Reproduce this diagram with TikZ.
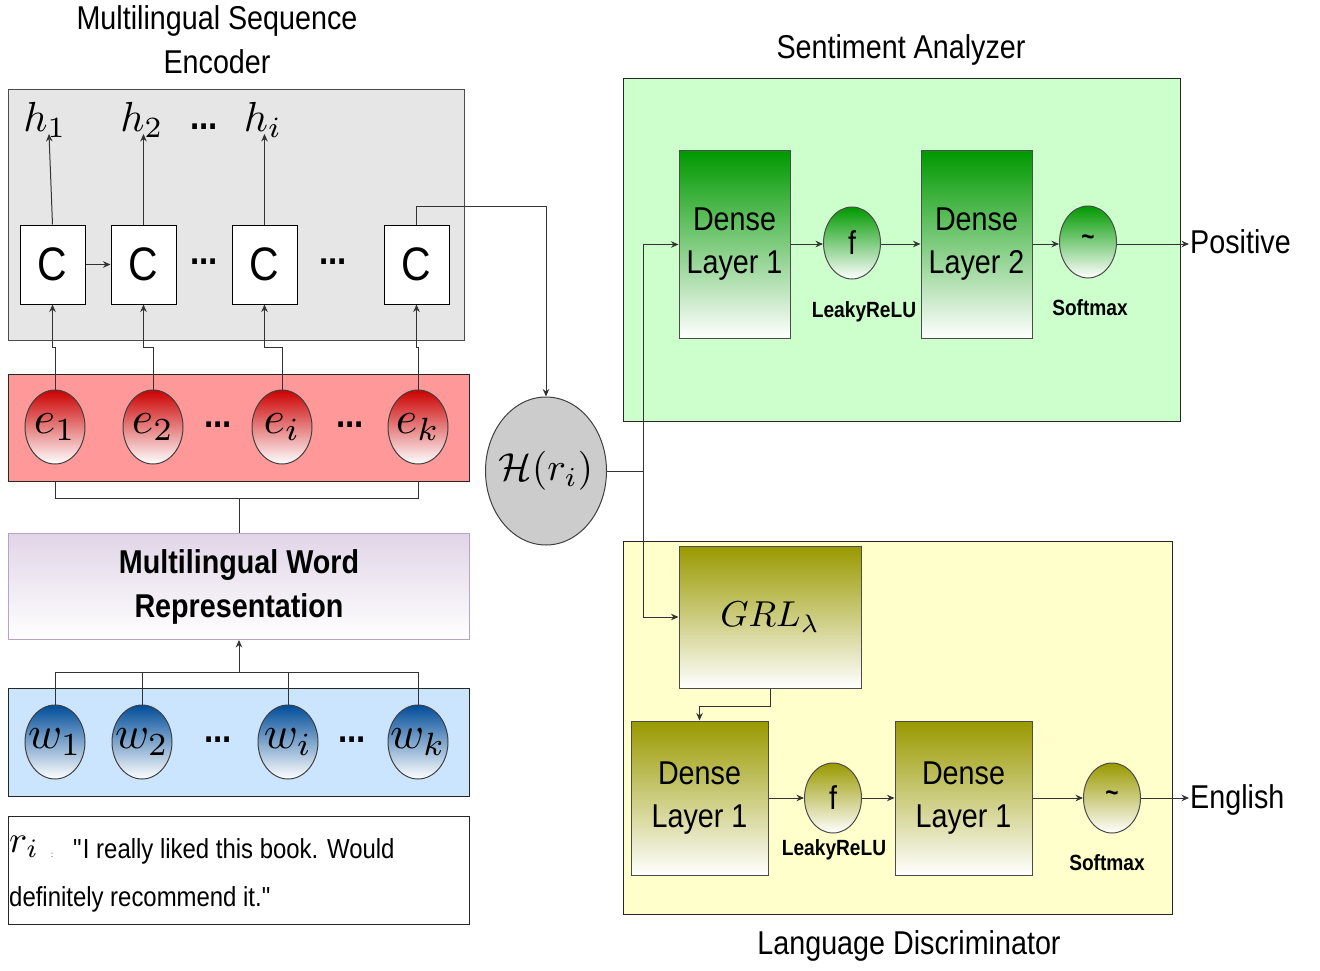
\documentclass[tikz,border=0pt]{standalone}
\usepackage{graphicx}
\usepackage{fontspec}
\setmainfont[FakeStretch=0.87]{Liberation Sans}
\usetikzlibrary{shapes.geometric,arrows.meta,calc}
\newcommand{\fsz}[2]{\fontsize{#1}{#2}\selectfont}
\newcommand{\bigmath}[2]{{\fsz{10}{12}\scalebox{#1}{$#2$}}}
\newcommand{\zmath}[2]{\makebox[0pt]{\fsz{10}{12}\scalebox{#1}{$#2$}}}
\definecolor{grayfill}{HTML}{E6E6E6}
\definecolor{redfill}{HTML}{FF9999}
\definecolor{redtop}{HTML}{CC0000}
\definecolor{bluefill}{HTML}{CCE5FF}
\definecolor{bluetop}{HTML}{004C99}
\definecolor{purpfill}{HTML}{E1D5E7}
\definecolor{purpline}{HTML}{B9A2C8}
\definecolor{greenfill}{HTML}{CCFFCC}
\definecolor{greentop}{HTML}{009900}
\definecolor{yelfill}{HTML}{FFFFCC}
\definecolor{yeltop}{HTML}{999900}
\definecolor{hfill}{HTML}{CCCCCC}
\tikzset{
  >={Stealth[length=7.5pt,width=6.5pt]},
  conn/.style={line width=1pt, draw=black!80},
  container/.style={draw=black!85, line width=1pt, anchor=north west, inner sep=0},
  cbox/.style={draw=black, line width=1pt, fill=white, minimum width=65, minimum height=79, inner sep=0, font=\fsz{47}{56}},
  eell/.style={ellipse, draw=black!75, line width=1pt, top color=redtop, bottom color=white, minimum width=60, minimum height=74, inner sep=0},
  well/.style={ellipse, draw=black!75, line width=1pt, top color=bluetop, bottom color=white, minimum width=60, minimum height=74, inner sep=0},
  gdense/.style={draw=black!70, line width=1pt, top color=greentop, bottom color=white, minimum width=111, minimum height=187, inner sep=0, align=center, font=\fsz{33}{43}},
  ydense/.style={draw=black!70, line width=1pt, top color=yeltop, bottom color=white, minimum width=137, minimum height=154, inner sep=0, align=center, font=\fsz{33}{43}},
  gact/.style={ellipse, draw=black!70, line width=1pt, top color=greentop, bottom color=white, minimum width=57, minimum height=72, inner sep=0},
  yact/.style={ellipse, draw=black!70, line width=1pt, top color=yeltop, bottom color=white, minimum width=57, minimum height=70, inner sep=0},
  tildefont/.style={font=\fsz{26}{30}\bfseries},
  ttl/.style={font=\fsz{33}{44}, align=center, inner sep=0},
  lbl/.style={font=\fsz{22}{26}\bfseries, inner sep=0},
  dots/.style={font=\fsz{38}{38}\bfseries, inner sep=0},
  hlab/.style={inner sep=0},
}
\begin{document}
\begin{tikzpicture}[x=1pt,y=-1pt]
\useasboundingbox (0,0) rectangle (1320,971);

% ---------- titles
\node[ttl] (enctitle) at (217,40) {Multilingual Sequence\\Encoder};
\node[ttl] (satitle) at (901,50) {Sentiment Analyzer};
\node[ttl] (ldtitle) at (909,946) {Language Discriminator};

% ---------- containers
\node[container, fill=grayfill, draw=black!70, minimum width=456, minimum height=251] (gray) at (8,89) {};
\node[container, fill=redfill, minimum width=461, minimum height=107] (red) at (8,374) {};
\node[container, draw=purpline, top color=purpfill, bottom color=white, minimum width=461, minimum height=106, font=\fsz{33}{44}\bfseries, align=center] (mwr) at (8,533) {Multilingual Word\\Representation};
\node[container, fill=bluefill, minimum width=461, minimum height=108] (blue) at (8,688) {};
\node[container, fill=white, minimum width=461, minimum height=108] (txt) at (8,816) {};
\node[container, fill=greenfill, minimum width=557, minimum height=343] (green) at (623,78) {};
\node[container, fill=yelfill, minimum width=549, minimum height=373] (yellow) at (623,541) {};

% ---------- encoder cells
\node[cbox] (C1) at (52.5,264.5) {C};
\node[cbox] (C2) at (143.5,264.5) {C};
\node[cbox] (C3) at (264.5,264.5) {C};
\node[cbox] (C4) at (416.5,264.5) {C};
\node[dots] (cd1) at (204,262) {...};
\node[dots] (cd2) at (333,262) {...};

\node[hlab] (h1) at (45,120) {\bigmath{4.2}{h_1}};
\node[hlab] (h2) at (142,120) {\bigmath{4.2}{h_2}};
\node[hlab] (h3) at (263,120) {\bigmath{4.2}{h_i}};
\node[dots] (hd) at (204,127) {...};

\draw[conn,->] (C1.north) -- ($(h1.south)+(4,-4)$);
\draw[conn,->] (C2.north) -- (C2.north |- h2.south) -- ++(0,-4);
\draw[conn,->] (C3.north) -- (C3.north |- h3.south) -- ++(0,-4);
\draw[conn,->] (C1.east) -- (C2.west);

% ---------- embeddings
\node[eell] (e1) at (55,427) {\zmath{4.6}{e_1}};
\node[eell] (e2) at (153,427) {\zmath{4.6}{e_2}};
\node[eell] (e3) at (282,427) {\zmath{4.6}{e_i}};
\node[eell] (e4) at (418,427) {\zmath{4.6}{e_k}};
\node[dots] (ed1) at (218,425) {...};
\node[dots] (ed2) at (350,425) {...};

\coordinate (jog) at (0,347);
\draw[conn,->] (e1.north) -- (e1.north |- jog) -| (C1.south);
\draw[conn,->] (e2.north) -- (e2.north |- jog) -| (C2.south);
\draw[conn,->] (e3.north) -- (e3.north |- jog) -| (C3.south);
\draw[conn,->] (e4.north) -- (e4.north |- jog) -| (C4.south);

\coordinate (ebr) at (0,498);
\draw[conn] (e1.south |- red.south) -- (e1.south |- ebr) -- (e4.south |- ebr) -- (e4.south |- red.south);
\draw[conn] (red.south |- ebr) -- (mwr.north);

% ---------- words
\node[well] (w1) at (55,742) {\zmath{4.6}{w_1}};
\node[well] (w2) at (142,742) {\zmath{4.6}{w_2}};
\node[well] (w3) at (288,742) {\zmath{4.6}{w_i}};
\node[well] (w4) at (418,742) {\zmath{4.6}{w_k}};
\node[dots] (wd1) at (218,740) {...};
\node[dots] (wd2) at (352,740) {...};

\coordinate (wbr) at (0,672);
\draw[conn] (w1.north) -- (w1.north |- wbr) -- (w4.north |- wbr) -- (w4.north);
\draw[conn] (w2.north) -- (w2.north |- wbr);
\draw[conn] (w3.north) -- (w3.north |- wbr);
\draw[conn,->] (blue.north |- wbr) -- (mwr.south);

% ---------- review text
\node[anchor=base west, inner sep=0] (ri) at (9,852) {\bigmath{3.8}{r_i}};
\node[font=\fsz{8}{9}, anchor=base, inner sep=0] (colon) at (52,857) {:};
\node[font=\fsz{27.5}{34}, anchor=base west, inner sep=0] (q1) at (73,858) {\textquotedbl I really liked this book. Would};
\node[font=\fsz{27.5}{34}, anchor=base west, inner sep=0] (q2) at (9,906) {definitely recommend it.\textquotedbl};

% ---------- shared representation
\node[ellipse, draw=black!75, line width=1pt, fill=hfill, minimum width=121, minimum height=148, inner sep=0] (H) at (546,471) {\zmath{3.9}{\mathcal{H}(r_i)}};
\draw[conn,->] (C4.north) -- (C4.north |- 0,206) -| (H.north);

% ---------- sentiment analyzer
\node[gdense] (sd1) at (734.5,244.5) {Dense\\Layer 1};
\node[gact, font=\fsz{33}{40}] (sf) at (852,243) {f};
\node[gdense] (sd2) at (976.5,244.5) {Dense\\Layer 2};
\node[gact, tildefont] (ssm) at (1088,242) {\raisebox{3pt}{\textasciitilde}};
\node[lbl] (slr) at (864,312) {LeakyReLU};
\node[lbl] (ssl) at (1090,308) {Softmax};
\node[font=\fsz{33}{40}, anchor=west, inner sep=1] (pos) at (1189,242) {Positive};

\draw[conn,->] (sd1.east |- 0,244) -- (sf.west |- 0,244);
\draw[conn,->] (sf.east |- 0,244) -- (sd2.west |- 0,244);
\draw[conn,->] (sd2.east |- 0,244) -- (ssm.west |- 0,244);
\draw[conn,->] (ssm.east |- 0,244) -- (pos.west |- 0,244);

% ---------- language discriminator
\node[ydense, minimum width=182, minimum height=142] (grl) at (770,617) {\zmath{3.6}{GRL_\lambda}};
\node[ydense] (ld1) at (699.5,798) {Dense\\Layer 1};
\node[yact, font=\fsz{33}{40}] (lf) at (833,798) {f};
\node[ydense] (ld2) at (963.5,798) {Dense\\Layer 1};
\node[yact, tildefont] (lsm) at (1112,798) {\raisebox{3pt}{\textasciitilde}};
\node[lbl] (llr) at (834,850) {LeakyReLU};
\node[lbl] (lsl) at (1107,863) {Softmax};
\node[font=\fsz{33}{40}, anchor=base west, inner sep=1] (eng) at (1189,808) {English};

\draw[conn,->] (grl.south) -- (grl.south |- 0,706) -| (ld1.north);
\draw[conn,->] (ld1.east) -- (lf.west);
\draw[conn,->] (lf.east) -- (ld2.west);
\draw[conn,->] (ld2.east) -- (lsm.west);
\draw[conn,->] (lsm.east) -- (eng.west |- lsm.east);

% ---------- split from H
\coordinate (split) at (643,471);
\draw[conn] (H.east) -- (split);
\draw[conn,->] (split) |- (sd1.west);
\draw[conn,->] (split) |- (grl.west);
\end{tikzpicture}
\end{document}
